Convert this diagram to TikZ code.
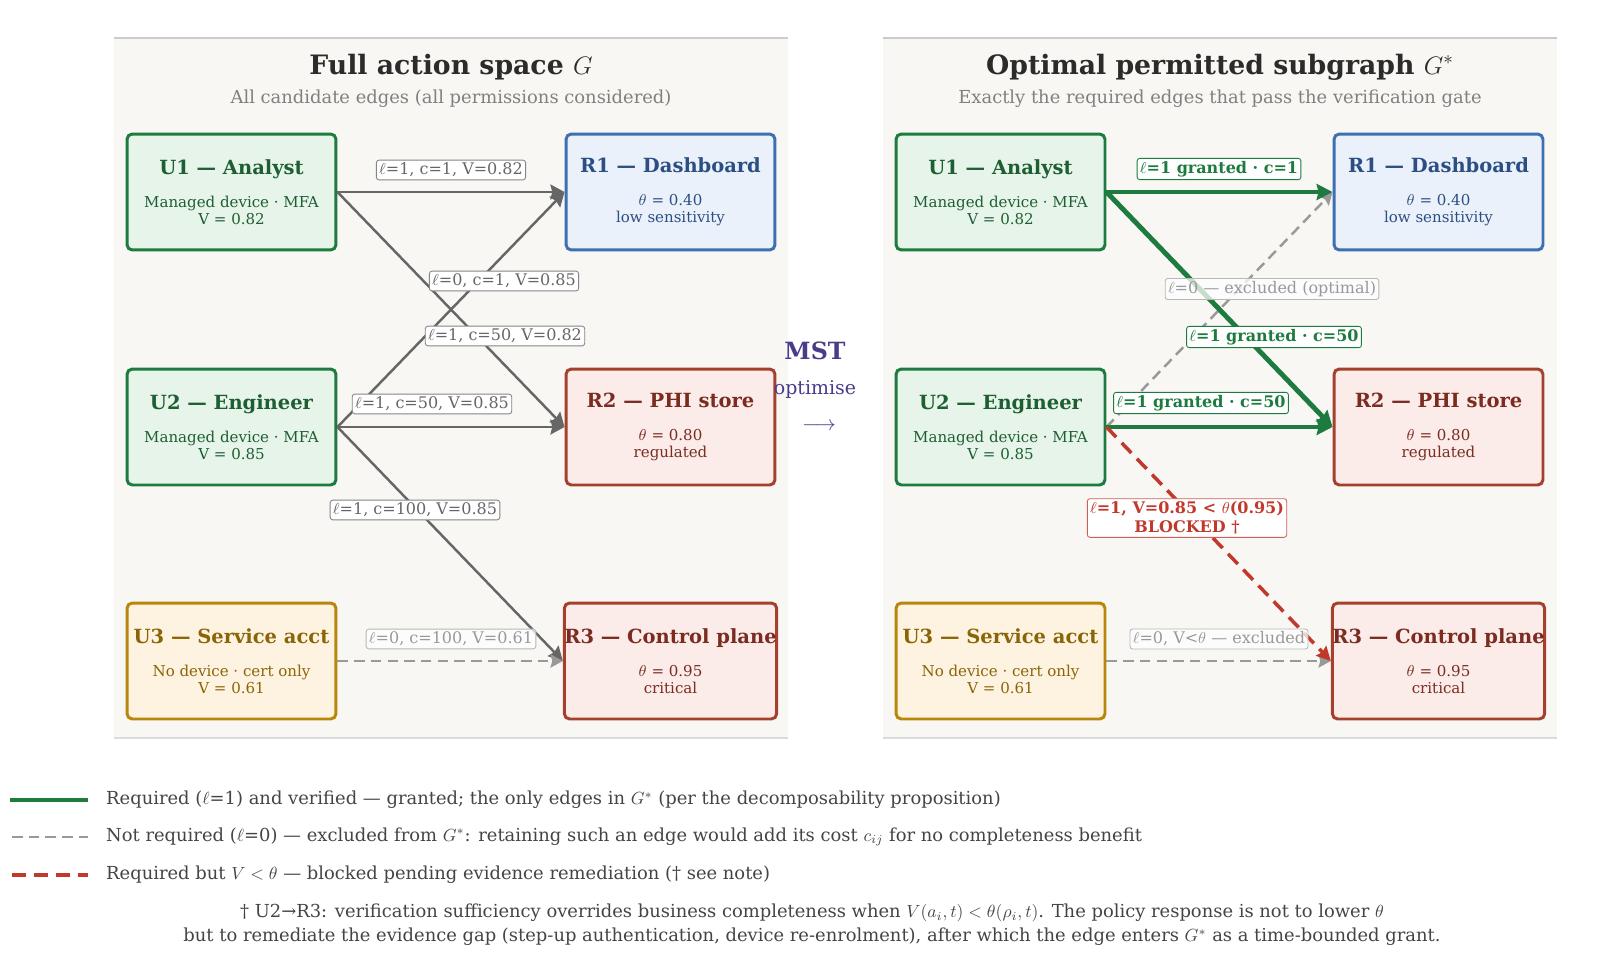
\documentclass[tikz,border=0pt]{standalone}
\usepackage{fontspec}
\setmainfont{DejaVu Serif}
\usepackage{amsmath,amssymb}
\usepackage{tikz}
\usetikzlibrary{arrows.meta}

\definecolor{panelbg}{HTML}{F8F7F4}
\definecolor{panelrule}{HTML}{CCCCCC}
\definecolor{titlecol}{HTML}{2B2B2B}
\definecolor{subcol}{HTML}{808080}
\definecolor{gbord}{HTML}{1E7B3F}
\definecolor{gfill}{HTML}{E7F4EA}
\definecolor{gtext}{HTML}{1D5E32}
\definecolor{bbord}{HTML}{3E6FB3}
\definecolor{bfill}{HTML}{EAF1FA}
\definecolor{btext}{HTML}{2B4F82}
\definecolor{rbord}{HTML}{A5402D}
\definecolor{rfill}{HTML}{FBECE9}
\definecolor{rtext}{HTML}{7B2B20}
\definecolor{ybord}{HTML}{B8860B}
\definecolor{yfill}{HTML}{FEF3E0}
\definecolor{ytext}{HTML}{8A6508}
\definecolor{edgegray}{HTML}{666666}
\definecolor{exclgray}{HTML}{999999}
\definecolor{blockred}{HTML}{C0392B}
\definecolor{mstcol}{HTML}{483D8B}
\definecolor{legcol}{HTML}{444444}

\newcommand{\paneltitle}{\fontsize{15.2}{18}\selectfont\bfseries}
\newcommand{\panelsub}{\fontsize{10.2}{12}\selectfont}
\newcommand{\boxhead}{\fontsize{11.1}{13}\selectfont\bfseries}
\newcommand{\boxbody}{\fontsize{8.55}{9.7}\selectfont}
\newcommand{\edgefont}{\fontsize{9.1}{11}\selectfont}
\newcommand{\legfont}{\fontsize{10.2}{13.5}\selectfont}

\tikzset{
  box/.style={line width=1.7pt, rounded corners=3pt, minimum width=4.18cm,
    minimum height=2.32cm, align=center, inner sep=0pt, font=\boxbody},
  ubox/.style={box, draw=gbord, fill=gfill, text=gtext},
  wbox/.style={box, draw=ybord, fill=yfill, text=ytext},
  bluebox/.style={box, draw=bbord, fill=bfill, text=btext},
  redbox/.style={box, draw=rbord, fill=rfill, text=rtext},
  cand/.style={draw=edgegray, line width=1.4pt, -{Stealth[length=8pt,width=8.5pt,inset=1pt]}},
  excl/.style={draw=exclgray, line width=1.4pt, dash pattern=on 6pt off 3.5pt,
    -{Stealth[length=7pt,width=7.5pt,inset=1pt]}},
  grant/.style={draw=gbord, line width=2.8pt, -{Stealth[length=9pt,width=9pt,inset=1pt]}},
  blocked/.style={draw=blockred, line width=2pt, dash pattern=on 8pt off 4.5pt,
    -{Stealth[length=8pt,width=8pt,inset=1pt]}},
  elabel/.style={fill=white, draw=edgegray!80, line width=0.5pt, rounded corners=1.5pt,
    inner sep=1.6pt, text=edgegray, font=\edgefont},
  xlabel/.style={elabel, draw=exclgray!70, text=exclgray, fill opacity=0.75, text opacity=1},
  glabel/.style={elabel, draw=gbord, text=gbord, font=\edgefont\bfseries},
  rlabel/.style={elabel, draw=blockred!80, text=blockred, font=\edgefont\bfseries, align=center}
}

\begin{document}
\begin{tikzpicture}[x=0.02cm, y=-0.02cm]
  \useasboundingbox (0,0) rectangle (1598,977);

  % panels
  \fill[panelbg] (114,38) rectangle (788,738);
  \fill[panelbg] (883,38) rectangle (1557,738);
  \draw[panelrule, line width=1.1pt] (114,38) -- (788,38) (883,38) -- (1557,38);
  \draw[panelrule!70, line width=0.6pt] (114,738) -- (788,738) (883,738) -- (1557,738);

  \node[text=titlecol, font=\paneltitle] (lt) at (451,67) {Full action space $G$};
  \node[text=subcol, font=\panelsub] (ls) at (451,99) {All candidate edges (all permissions considered)};
  \node[text=titlecol, font=\paneltitle] (rt) at (1220,67) {Optimal permitted subgraph $G^*$};
  \node[text=subcol, font=\panelsub] (rs) at (1220,99) {Exactly the required edges that pass the verification gate};

  % left panel: full action space
  \node[ubox] (u1) at (231.5,192) {{\boxhead U1 — Analyst}\\[9pt]Managed device · MFA\\V = 0.82};
  \node[ubox] (u2) at (231.5,427) {{\boxhead U2 — Engineer}\\[9pt]Managed device · MFA\\V = 0.85};
  \node[wbox] (u3) at (231.5,661) {{\boxhead U3 — Service acct}\\[9pt]No device · cert only\\V = 0.61};
  \node[bluebox] (r1) at (670.5,192) {{\boxhead R1 — Dashboard}\\[9pt]$\theta$ = 0.40\\low sensitivity};
  \node[redbox] (r2) at (670.5,427) {{\boxhead R2 — PHI store}\\[9pt]$\theta$ = 0.80\\regulated};
  \node[redbox] (r3) at (670.5,661) {{\boxhead R3 — Control plane}\\[9pt]$\theta$ = 0.95\\critical};

  \draw[cand] (u1.east) -- (r1.west);
  \draw[cand] (u1.east) -- (r2.west);
  \draw[cand] (u2.east) -- (r1.west);
  \draw[cand] (u2.east) -- (r2.west);
  \draw[cand] (u2.east) -- (r3.west);
  \draw[excl] (u3.east) -- (r3.west);

  \node[elabel] (e11) at (451,170) {$\ell$=1, c=1, V=0.82};
  \node[elabel] (e21) at (504,281) {$\ell$=0, c=1, V=0.85};
  \node[elabel] (e12) at (505,336) {$\ell$=1, c=50, V=0.82};
  \node[elabel] (e22) at (432,404) {$\ell$=1, c=50, V=0.85};
  \node[elabel] (e23) at (415,510) {$\ell$=1, c=100, V=0.85};
  \node[xlabel] (e33) at (451,639) {$\ell$=0, c=100, V=0.61};

  % middle
  \node[text=mstcol, font=\fontsize{13.5}{16}\selectfont\bfseries] (mst) at (815,351) {MST};
  \node[text=mstcol, font=\fontsize{10.8}{12}\selectfont] (opt) at (815,389) {optimise};
  \node[text=mstcol, font=\fontsize{12.5}{14}\selectfont] (go) at (819,427) {$\longrightarrow$};

  % right panel: optimal subgraph
  \node[ubox] (v1) at (1000.5,192) {{\boxhead U1 — Analyst}\\[9pt]Managed device · MFA\\V = 0.82};
  \node[ubox] (v2) at (1000.5,427) {{\boxhead U2 — Engineer}\\[9pt]Managed device · MFA\\V = 0.85};
  \node[wbox] (v3) at (1000.5,661) {{\boxhead U3 — Service acct}\\[9pt]No device · cert only\\V = 0.61};
  \node[bluebox] (s1) at (1438.5,192) {{\boxhead R1 — Dashboard}\\[9pt]$\theta$ = 0.40\\low sensitivity};
  \node[redbox] (s2) at (1438.5,427) {{\boxhead R2 — PHI store}\\[9pt]$\theta$ = 0.80\\regulated};
  \node[redbox] (s3) at (1438.5,661) {{\boxhead R3 — Control plane}\\[9pt]$\theta$ = 0.95\\critical};

  \draw[excl] (v2.east) -- (s1.west);
  \draw[excl] (v3.east) -- (s3.west);
  \draw[grant] (v1.east) -- (s1.west);
  \draw[grant] (v1.east) -- (s2.west);
  \draw[grant] (v2.east) -- (s2.west);
  \draw[blocked] (v2.east) -- (s3.west);

  \node[xlabel] (f21) at (1272,289) {$\ell$=0 — excluded (optimal)};
  \node[glabel] (f11) at (1219,169) {$\ell$=1 granted · c=1};
  \node[glabel] (f12) at (1274,337) {$\ell$=1 granted · c=50};
  \node[glabel] (f22) at (1201,403) {$\ell$=1 granted · c=50};
  \node[rlabel] (f23) at (1187,518) {$\ell$=1, V=0.85 < $\theta$(0.95)\\BLOCKED †};
  \node[xlabel] (f33) at (1219,639) {$\ell$=0, V<$\theta$ — excluded};

  % legend
  \draw[gbord, line width=2.8pt] (10,800) -- (88,800);
  \draw[exclgray, line width=1.4pt, dash pattern=on 6pt off 3.5pt] (12,837) -- (88,837);
  \draw[blockred, line width=2pt, dash pattern=on 8pt off 4.5pt] (12,875) -- (88,875);
  \node[anchor=west, text=legcol, font=\legfont] (k1) at (100,800)
    {Required ($\ell$=1) and verified — granted; the only edges in $G^*$ (per the decomposability proposition)};
  \node[anchor=west, text=legcol, font=\legfont] (k2) at (100,837)
    {Not required ($\ell$=0) — excluded from $G^*$: retaining such an edge would add its cost $c_{ij}$ for no completeness benefit};
  \node[anchor=west, text=legcol, font=\legfont] (k3) at (100,875)
    {Required but $V<\theta$ — blocked pending evidence remediation († see note)};
  \node[text=legcol, font=\legfont, align=center] (note) at (812,925)
    {† U2→R3: verification sufficiency overrides business completeness when $V(a_i,t)<\theta(\rho_i,t)$. The policy response is not to lower $\theta$\\
     but to remediate the evidence gap (step-up authentication, device re-enrolment), after which the edge enters $G^*$ as a time-bounded grant.};
\end{tikzpicture}
\end{document}
